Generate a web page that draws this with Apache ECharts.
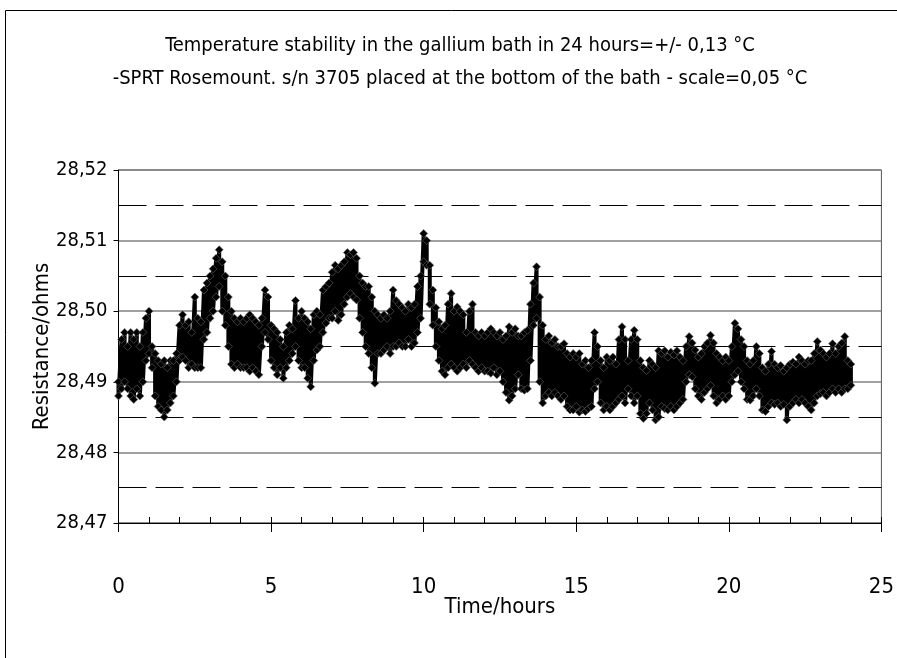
<!DOCTYPE html>
<html>
<head>
<meta charset="utf-8">
<script src="https://cdn.jsdelivr.net/npm/echarts@6/dist/echarts.min.js"></script>
<style>
html,body{margin:0;padding:0;background:#fff;}
#chart{width:897px;height:658px;}
</style>
</head>
<body>
<div id="chart"></div>
<script>
// Time of each reading window (hours)
const hours = [
0,0.1,0.2,0.3,0.4,0.5,0.6,0.7,0.8,0.9,
1,1.1,1.2,1.3,1.4,1.5,1.6,1.7,1.8,1.9,
2,2.1,2.2,2.3,2.4,2.5,2.6,2.7,2.8,2.9,
3,3.1,3.2,3.3,3.4,3.5,3.6,3.7,3.8,3.9,
4,4.1,4.2,4.3,4.4,4.5,4.6,4.7,4.8,4.9,
5,5.1,5.2,5.3,5.4,5.5,5.6,5.7,5.8,5.9,
6,6.1,6.2,6.3,6.4,6.5,6.6,6.7,6.8,6.9,
7,7.1,7.2,7.3,7.4,7.5,7.6,7.7,7.8,7.9,
8,8.1,8.2,8.3,8.4,8.5,8.6,8.7,8.8,8.9,
9,9.1,9.2,9.3,9.4,9.5,9.6,9.7,9.8,9.9,
10,10.1,10.2,10.3,10.4,10.5,10.6,10.7,10.8,10.9,
11,11.1,11.2,11.3,11.4,11.5,11.6,11.7,11.8,11.9,
12,12.1,12.2,12.3,12.4,12.5,12.6,12.7,12.8,12.9,
13,13.1,13.2,13.3,13.4,13.5,13.6,13.7,13.8,13.9,
14,14.1,14.2,14.3,14.4,14.5,14.6,14.7,14.8,14.9,
15,15.1,15.2,15.3,15.4,15.5,15.6,15.7,15.8,15.9,
16,16.1,16.2,16.3,16.4,16.5,16.6,16.7,16.8,16.9,
17,17.1,17.2,17.3,17.4,17.5,17.6,17.7,17.8,17.9,
18,18.1,18.2,18.3,18.4,18.5,18.6,18.7,18.8,18.9,
19,19.1,19.2,19.3,19.4,19.5,19.6,19.7,19.8,19.9,
20,20.1,20.2,20.3,20.4,20.5,20.6,20.7,20.8,20.9,
21,21.1,21.2,21.3,21.4,21.5,21.6,21.7,21.8,21.9,
22,22.1,22.2,22.3,22.4,22.5,22.6,22.7,22.8,22.9,
23,23.1,23.2,23.3,23.4,23.5,23.6,23.7,23.8,23.9,
24
];

// Highest resistance reading in each window (ohms)
const resistanceHigh = [
28.490,28.496,28.497,28.495,28.497,28.496,28.497,28.495,28.497,28.499,
28.500,28.495,28.494,28.493,28.4925,28.493,28.492,28.493,28.493,28.494,
28.498,28.4995,28.498,28.4985,28.497,28.502,28.499,28.4985,28.503,28.504,
28.505,28.506,28.5075,28.5087,28.507,28.505,28.502,28.500,28.499,28.4985,
28.499,28.4985,28.499,28.4995,28.499,28.4985,28.498,28.499,28.503,28.502,
28.498,28.4975,28.497,28.496,28.495,28.497,28.498,28.4975,28.5015,28.499,
28.500,28.499,28.4985,28.4975,28.4995,28.500,28.4995,28.503,28.5035,28.504,
28.5055,28.5065,28.506,28.5065,28.507,28.5083,28.508,28.5083,28.5075,28.505,
28.504,28.5035,28.5035,28.502,28.500,28.4995,28.499,28.4995,28.499,28.500,
28.503,28.5015,28.501,28.5005,28.500,28.501,28.5005,28.501,28.5035,28.505,
28.511,28.510,28.5065,28.503,28.5005,28.4985,28.4975,28.498,28.501,28.5025,
28.500,28.5006,28.500,28.4995,28.497,28.500,28.501,28.497,28.4965,28.497,
28.4965,28.497,28.4975,28.497,28.4965,28.497,28.496,28.4965,28.4978,28.497,
28.4975,28.4965,28.4965,28.497,28.4973,28.501,28.504,28.5063,28.502,28.498,
28.496,28.4965,28.4955,28.496,28.495,28.495,28.4954,28.494,28.4935,28.494,
28.4935,28.494,28.4925,28.493,28.492,28.493,28.497,28.495,28.493,28.492,
28.4935,28.493,28.4935,28.4925,28.496,28.4978,28.496,28.493,28.496,28.4973,
28.496,28.493,28.492,28.4916,28.493,28.4925,28.492,28.4944,28.494,28.4944,
28.4935,28.4942,28.4938,28.4944,28.4935,28.493,28.495,28.4964,28.4955,28.4945,
28.4935,28.494,28.495,28.4955,28.4966,28.4955,28.494,28.4935,28.493,28.4935,
28.493,28.495,28.4983,28.4975,28.496,28.495,28.493,28.4925,28.493,28.495,
28.494,28.492,28.4915,28.4925,28.4943,28.4925,28.492,28.4923,28.4915,28.492,
28.4925,28.4928,28.4925,28.4935,28.493,28.4925,28.493,28.493,28.494,28.4957,
28.4945,28.494,28.4935,28.494,28.4954,28.494,28.495,28.4955,28.4964,28.493,
28.4925
];

// Lowest resistance reading in each window (ohms)
const resistanceLow = [
28.488,28.489,28.490,28.489,28.488,28.4875,28.489,28.488,28.490,28.493,
28.494,28.492,28.488,28.4865,28.486,28.485,28.486,28.487,28.488,28.490,
28.493,28.4935,28.493,28.492,28.4925,28.492,28.492,28.492,28.496,28.497,
28.499,28.500,28.502,28.5035,28.500,28.498,28.495,28.4925,28.492,28.4925,
28.492,28.492,28.492,28.4915,28.492,28.4915,28.491,28.495,28.497,28.496,
28.493,28.492,28.491,28.492,28.4905,28.492,28.493,28.494,28.495,28.493,
28.492,28.492,28.4905,28.4893,28.493,28.4945,28.495,28.497,28.4983,28.499,
28.499,28.500,28.4987,28.4995,28.501,28.502,28.5025,28.502,28.5016,28.499,
28.497,28.495,28.494,28.492,28.4898,28.494,28.494,28.4945,28.495,28.494,
28.495,28.495,28.4955,28.495,28.495,28.496,28.495,28.4955,28.497,28.499,
28.507,28.5065,28.501,28.498,28.495,28.493,28.4915,28.491,28.492,28.4925,
28.492,28.4915,28.492,28.4925,28.492,28.493,28.4925,28.492,28.4915,28.492,
28.4915,28.4915,28.4912,28.492,28.491,28.4915,28.490,28.4885,28.4874,28.488,
28.489,28.491,28.489,28.4888,28.489,28.493,28.498,28.499,28.490,28.487,
28.488,28.4885,28.488,28.4885,28.488,28.4875,28.488,28.4865,28.486,28.486,
28.4865,28.4857,28.486,28.4858,28.4862,28.4865,28.489,28.490,28.487,28.486,
28.4865,28.486,28.4865,28.487,28.4875,28.488,28.487,28.489,28.488,28.487,
28.488,28.4855,28.4848,28.4855,28.487,28.486,28.4846,28.485,28.4865,28.4862,
28.486,28.4865,28.486,28.4865,28.487,28.4875,28.490,28.491,28.4907,28.489,
28.488,28.4875,28.4885,28.489,28.4895,28.488,28.487,28.4875,28.488,28.4875,
28.488,28.490,28.491,28.4915,28.490,28.489,28.4875,28.4874,28.488,28.489,
28.488,28.486,28.4858,28.4865,28.487,28.4868,28.487,28.4865,28.4868,28.4846,
28.4865,28.487,28.4875,28.487,28.4875,28.487,28.4865,28.486,28.487,28.488,
28.4883,28.4885,28.488,28.4885,28.489,28.4885,28.489,28.4885,28.489,28.489,
28.4895
];

const titleLine1 = 'Temperature stability in the gallium bath in 24 hours=+/- 0,13 °C';
const titleLine2 = '-SPRT Rosemount. s/n 3705 placed at the bottom of the bath - scale=0,05 °C';
const xAxisTitle = 'Time/hours';
const yAxisTitle = 'Resistance/ohms';

const FONT = "'Liberation Sans Narrow', 'DejaVu Sans Condensed', 'Liberation Sans', Arial, sans-serif";

const points = [];
for (let i = 0; i < hours.length; i++) {
  points.push([hours[i], resistanceHigh[i]]);
  points.push([hours[i], resistanceLow[i]]);
}

const chart = echarts.init(document.getElementById('chart'), null, {renderer: 'canvas'});
chart.setOption({
  animation: false,
  backgroundColor: '#fff',
  graphic: [
    {type: 'rect', shape: {x: 5.5, y: 10.5, width: 900, height: 700}, style: {fill: 'none', stroke: '#000', lineWidth: 1}, silent: true},
    {type: 'text', x: 460, y: 46, style: {text: titleLine1, textAlign: 'center', textVerticalAlign: 'middle', fontSize: 20, fontFamily: FONT, fill: '#000'}},
    {type: 'text', x: 460, y: 79, style: {text: titleLine2, textAlign: 'center', textVerticalAlign: 'middle', fontSize: 20, fontFamily: FONT, fill: '#000'}}
  ],
  grid: {left: 118.5, right: 13, top: 170, bottom: 135, show: true, borderColor: '#555', borderWidth: 1, backgroundColor: '#fff'},
  xAxis: [{
    type: 'value', min: 0, max: 25, interval: 5, position: 'bottom',
    axisLine: {show: true, onZero: false, lineStyle: {color: '#000', width: 1}},
    axisTick: {show: true, inside: true, length: 6, lineStyle: {color: '#000'}},
    minorTick: {show: true, splitNumber: 5, length: 6, lineStyle: {color: '#000'}},
    splitLine: {show: false},
    axisLabel: {margin: 53, fontSize: 22, color: '#000', fontFamily: FONT},
    name: xAxisTitle, nameLocation: 'middle', nameGap: 73, nameMoveOverlap: false,
    nameTextStyle: {fontSize: 22, color: '#000', fontFamily: FONT}
  }, {
    type: 'value', min: 0, max: 25, interval: 5, position: 'bottom',
    axisLine: {show: false, onZero: false},
    axisTick: {show: true, inside: false, length: 9, lineStyle: {color: '#000'}},
    axisLabel: {show: false}, splitLine: {show: false}
  }],
  yAxis: {
    type: 'value', min: 28.47, max: 28.52, interval: 0.01,
    axisLine: {show: true, lineStyle: {color: '#000', width: 1}},
    axisTick: {show: true, inside: false, length: 5, lineStyle: {color: '#000'}},
    axisLabel: {formatter: v => v.toFixed(2).replace('.', ','), margin: 11, fontSize: 20, color: '#000', fontFamily: FONT},
    splitLine: {show: true, lineStyle: {color: '#808080', width: 1.5}},
    minorTick: {show: false, splitNumber: 2},
    minorSplitLine: {show: true, lineStyle: {color: '#000', width: 1, type: [28, 9]}},
    name: yAxisTitle, nameLocation: 'middle', nameGap: 65, nameMoveOverlap: false,
    nameTextStyle: {fontSize: 22, color: '#000', fontFamily: FONT}
  },
  series: [{
    type: 'line', xAxisIndex: 0, data: points,
    symbol: 'diamond', symbolSize: 8, showSymbol: true, showAllSymbol: true,
    lineStyle: {color: '#000', width: 4},
    itemStyle: {color: '#000', borderColor: '#666', borderWidth: 0.6},
    silent: true, z: 3
  }]
});
</script>
</body>
</html>
